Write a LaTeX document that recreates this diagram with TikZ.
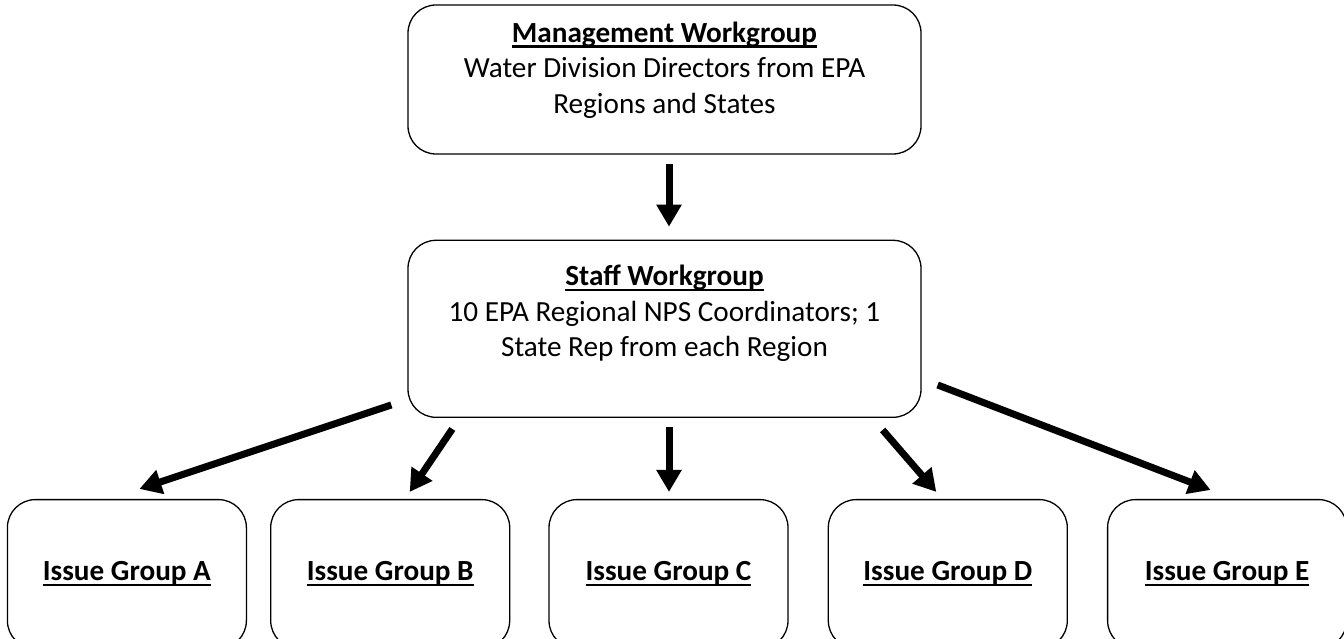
\documentclass[tikz,border=0pt]{standalone}
\usepackage{fontspec}
\setmainfont{Carlito}
\usetikzlibrary{positioning,arrows.meta}
% heavy underline for the box titles
\newcommand{\ulbox}[1]{\setbox0\hbox{#1}\rlap{\rule[-5.6pt]{\wd0}{2.6pt}}\box0}

\begin{document}
\begin{tikzpicture}[
  x=1pt, y=-1pt,
  % Rounded boxes for the work groups
  groupbox/.style={rectangle, rounded corners=28pt, draw, line width=1.3pt,
    align=center, inner sep=0pt, font=\fontsize{29.2}{35.5}\selectfont},
  wide/.style={groupbox, minimum width=513pt},
  issue/.style={groupbox, minimum width=239pt, minimum height=149pt,
    font=\fontsize{29.2}{35}\selectfont\bfseries},
  % Heavy arrows with filled heads
  flow/.style={draw, line width=7pt, -{Triangle[length=22pt, width=24pt]}},
]
  \useasboundingbox (0,0) rectangle (1344,639);
  \clip (0,0) rectangle (1344,639);

  % === Level 1: Management ===
  \node[wide, minimum height=149pt, text depth=24pt] (mgmt) at (664.5,79.5)
    {\ulbox{\textbf{Management Workgroup}}\\Water Division Directors from EPA\\Regions and States};

  % === Level 2: Staff ===
  \node[wide, minimum height=177pt, text depth=36pt, below=85pt of mgmt] (staff)
    {\ulbox{\textbf{Staff Workgroup}}\\10 EPA Regional NPS Coordinators; 1\\State Rep from each Region};

  % === Level 3: Issue groups ===
  \node[issue, below=81pt of staff, xshift=4pt] (grpC) {\ulbox{Issue Group C}};
  \node[issue, left=38pt of grpC] (grpB) {\ulbox{Issue Group B}};
  \node[issue, left=23pt of grpB] (grpA) {\ulbox{Issue Group A}};
  \node[issue, right=39pt of grpC] (grpD) {\ulbox{Issue Group D}};
  \node[issue, right=39pt of grpD] (grpE) {\ulbox{Issue Group E}};

  % === Arrows ===
  \draw[flow] ([xshift=4.5pt, yshift=-9pt]mgmt.south) -- ([xshift=4.5pt, yshift=13pt]staff.north);
  \draw[flow] ([xshift=-16pt, yshift=13pt]staff.south west) -- ([xshift=12.5pt, yshift=10pt]grpA.north);
  \draw[flow] ([xshift=45pt, yshift=-11pt]staff.south west) -- ([xshift=19.5pt, yshift=7pt]grpB.north);
  \draw[flow] ([xshift=4.5pt, yshift=-9pt]staff.south) -- ([xshift=0.5pt, yshift=7pt]grpC.north);
  \draw[flow] ([xshift=-39pt, yshift=-12pt]staff.south east) -- ([xshift=-11.5pt, yshift=7pt]grpD.north);
  \draw[flow] ([xshift=16pt, yshift=33pt]staff.south east) -- ([xshift=-16.5pt, yshift=9pt]grpE.north);
\end{tikzpicture}
\end{document}
